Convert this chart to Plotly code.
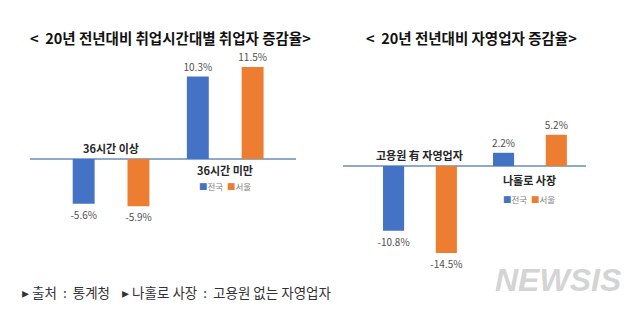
import plotly.graph_objects as go

# ---- data ----
left_title = "<  20년 전년대비 취업시간대별 취업자 증감율>"
left_categories = ["36시간 이상", "36시간 미만"]
left_national = [-5.6, 10.3]
left_seoul = [-5.9, 11.5]

right_title = "<  20년 전년대비 자영업자 증감율>"
right_categories = ["고용원 有 자영업자", "나홀로 사장"]
right_national = [-10.8, 2.2]
right_seoul = [-14.5, 5.2]

series_names = ["전국", "서울"]
footer = "▸ 출처  :  통계청    ▸ 나홀로 사장  :  고용원 없는 자영업자"
logo = "NEWSIS"

# ---- styles ----
BLUE = "#4472C4"
ORANGE = "#ED7D31"
ZERO = "#8FA9C8"
W, H = 640, 329
KFONT = "Noto Sans CJK KR"

def px(v, total):
    return v / total

fig = go.Figure()

panels = [
    dict(cats=left_categories, nat=left_national, seo=left_seoul, xa="x", ya="y",
         xdom=[px(30, W), px(296, W)], xr=[-0.71, 1.62], yr=[-14.5, 13.0],
         legend_xy=(225, 186), shifts=(1, -1)),
    dict(cats=right_categories, nat=right_national, seo=right_seoul, xa="x2", ya="y2",
         xdom=[px(343, W), px(586, W)], xr=[-0.70, 1.51], yr=[-18.17, 18.5],
         legend_xy=(529, 199), shifts=(1, -4)),
]

annotations = []
for p in panels:
    for name, vals, col in [(series_names[0], p["nat"], BLUE), (series_names[1], p["seo"], ORANGE)]:
        fig.add_trace(go.Bar(
            x=p["cats"], y=vals, name=name, marker_color=col, marker_line_width=0,
            xaxis=p["xa"], yaxis=p["ya"], showlegend=False,
            text=[f"{v:.1f}%" for v in vals], textposition="outside",
            constraintext="none", cliponaxis=False,
            textfont=dict(family=KFONT, size=10, color="#505050"),
        ))
    # category labels near the zero line
    for c, v in zip(p["cats"], p["nat"]):
        above = v < 0
        annotations.append(dict(
            x=c, y=0, xref=p["xa"], yref=p["ya"], text=f"<b>{c}</b>", showarrow=False,
            xanchor="center",
            yanchor="bottom" if above else "top",
            yshift=p["shifts"][0] if above else p["shifts"][1],
            font=dict(family=KFONT, size=11, color="#262626"),
        ))
    lx, ly = p["legend_xy"]
    annotations.append(dict(
        x=lx / W, y=1 - ly / H, xref="paper", yref="paper", showarrow=False, xanchor="center",
        text=(f"<span style='color:{BLUE}'>■</span>{series_names[0]}  "
              f"<span style='color:{ORANGE}'>■</span>{series_names[1]}"),
        font=dict(family=KFONT, size=8.5, color="#7f7f7f"),
    ))

# titles
annotations.append(dict(x=170 / W, y=1 - 25 / H, xref="paper", yref="paper", showarrow=False,
                        xanchor="center", text=f"<b>{left_title}</b>",
                        font=dict(family=KFONT, size=14.5, color="#111111")))
annotations.append(dict(x=471 / W, y=1 - 25 / H, xref="paper", yref="paper", showarrow=False,
                        xanchor="center", text=f"<b>{right_title}</b>",
                        font=dict(family=KFONT, size=14.5, color="#111111")))
# footer
annotations.append(dict(x=20 / W, y=1 - 304 / H, xref="paper", yref="paper", showarrow=False,
                        xanchor="left", text=footer, font=dict(family=KFONT, size=13.5, color="#333333")))
# logo
annotations.append(dict(x=558 / W, y=1 - 300 / H, xref="paper", yref="paper", showarrow=False,
                        xanchor="center", text=f"<b><i>{logo}</i></b>",
                        font=dict(family="Liberation Sans", size=32, color="#d4d4d4")))

ydom = [1 - 275 / H, 1 - 55 / H]
axis_common = dict(showgrid=False, showticklabels=False, ticks="", showline=False)
fig.update_layout(
    width=W, height=H, margin=dict(l=0, r=0, t=0, b=0),
    paper_bgcolor="white", plot_bgcolor="white",
    barmode="group", bargap=0.04, bargroupgap=0.6,
    xaxis=dict(domain=panels[0]["xdom"], range=panels[0]["xr"], type="category", anchor="y", **axis_common),
    yaxis=dict(domain=ydom, range=panels[0]["yr"], anchor="x", zeroline=True, zerolinecolor=ZERO,
               zerolinewidth=1.5, **axis_common),
    xaxis2=dict(domain=panels[1]["xdom"], range=panels[1]["xr"], type="category", anchor="y2", **axis_common),
    yaxis2=dict(domain=ydom, range=panels[1]["yr"], anchor="x2", zeroline=True, zerolinecolor=ZERO,
                zerolinewidth=1.5, **axis_common),
    annotations=annotations,
    showlegend=False,
)

fig.write_html("out.html")
